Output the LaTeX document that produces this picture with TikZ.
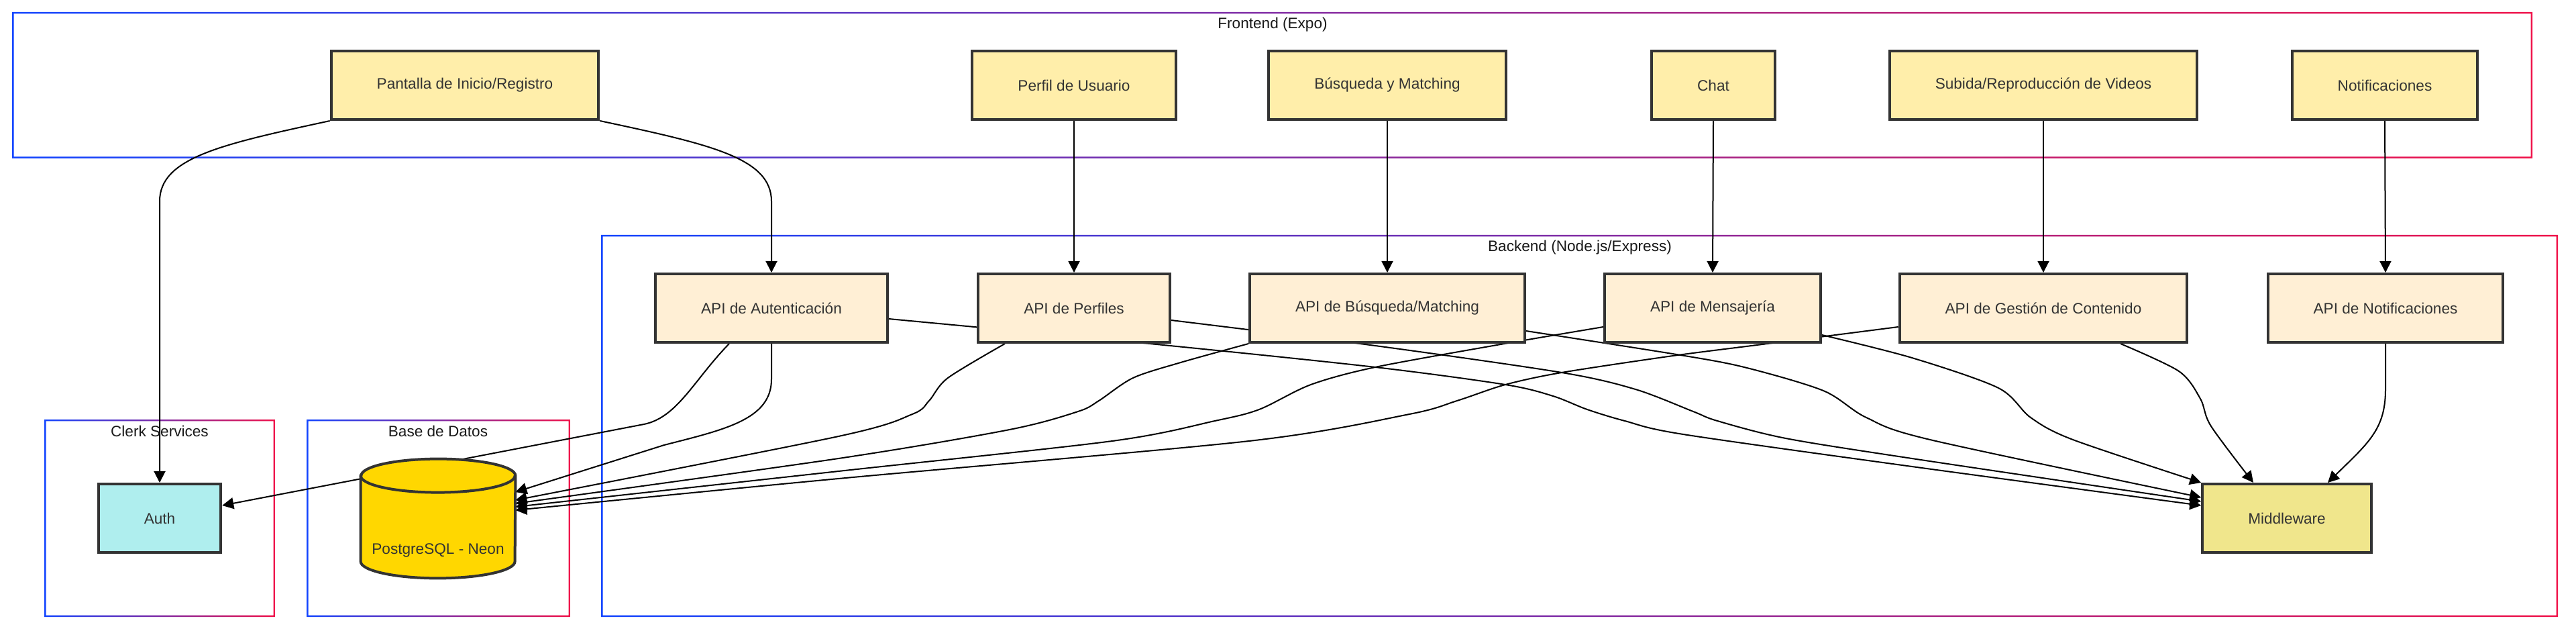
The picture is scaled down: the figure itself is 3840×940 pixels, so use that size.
\documentclass[tikz,border=0pt]{standalone}
\usepackage{fontspec}
\setmainfont{Liberation Sans}
\usetikzlibrary{arrows.meta,shadows}
\definecolor{frontfill}{HTML}{FFEEAA}
\definecolor{apifill}{HTML}{FFEFD5}
\definecolor{midfill}{HTML}{F0E68C}
\definecolor{authfill}{HTML}{AFEEEE}
\definecolor{dbfill}{HTML}{FFD700}
\definecolor{edge}{HTML}{333333}
\definecolor{clblue}{HTML}{1446FF}
\definecolor{clred}{HTML}{F0144B}
\pgfdeclarelayer{back}\pgfdeclarelayer{wires}\pgfsetlayers{back,wires,main}
\begin{document}
\begin{tikzpicture}[x=.5pt, y=-.5pt, >={Triangle[length=8.5pt,width=8.5pt]},
  box/.style={draw=edge, line width=2pt, text=edge, minimum height=51pt, inner xsep=34pt,
    font=\fontsize{11.3pt}{13.6pt}\selectfont,
    drop shadow={shadow xshift=1pt, shadow yshift=-1.5pt, opacity=.12}},
  front/.style={box, fill=frontfill}, api/.style={box, fill=apifill},
  wire/.style={line width=1pt, ->},
  title/.style={font=\fontsize{11.3pt}{13.6pt}\selectfont, text=black!90}]
	\useasboundingbox (0, 0) rectangle (3840, 940);
	\node [front] (pantalla) at (693, 127)  {Pantalla de Inicio/Registro};
	\node [front] (perfil)   at (1601, 127) {Perfil de Usuario};
	\node [front] (busq)     at (2068, 127) {Búsqueda y Matching};
	\node [front] (chat)     at (2554, 127) {Chat};
	\node [front] (videos)   at (3046, 127) {Subida/Reproducción de Videos};
	\node [front] (notif)    at (3555, 127) {Notificaciones};
	\node [api] (apiauth) at (1150, 459) {API de Autenticación};
	\node [api] (apiperf) at (1601, 459) {API de Perfiles};
	\node [api] (apibus)  at (2068, 459) {API de Búsqueda/Matching};
	\node [api] (apimen)  at (2553, 459) {API de Mensajería};
	\node [api] (apiges)  at (3046, 459) {API de Gestión de Contenido};
	\node [api] (apinot)  at (3556, 459) {API de Notificaciones};
	\node [box, fill=authfill] (auth) at (238, 772)  {Auth};
	\node [box, fill=midfill]  (mid)  at (3409, 772) {Middleware};
	\node [minimum width=115pt, minimum height=88.5pt, inner sep=0pt] (db) at (653, 772.5) {};
	\filldraw [draw=edge, fill=dbfill, line width=2pt] ([yshift=-12.5pt]db.north west) --
	  ([yshift=12.5pt]db.south west) arc [start angle=180, end angle=360, x radius=57.5pt, y radius=12.5pt] --
	  ([yshift=-12.5pt]db.north east) arc [start angle=0, end angle=180, x radius=57.5pt, y radius=12.5pt] -- cycle;
	\draw [draw=edge, line width=2pt] ([yshift=-12.5pt]db.north west)
	  arc [start angle=180, end angle=360, x radius=57.5pt, y radius=12.5pt];
	\node [title, text=edge] (dbname) at (653, 820) {PostgreSQL - Neon};
	\node [title] (fetitle) at (1897, 37)  {Frontend (Expo)};
	\node [title] (betitle) at (2355, 369) {Backend (Node.js/Express)};
	\node [title] (cltitle) at (238, 642)  {Clerk Services};
	\node [title] (dbtitle) at (653, 642)  {Base de Datos};
	\begin{pgfonlayer}{back}
	\fill [white] (0, 0) rectangle (3840, 940);
	\foreach \a/\b/\c/\d in {18/18/3775/236, 896/350/3813/919, 66/625/410/919, 457/625/850/919}
	  \shade [left color=clblue, right color=clred, even odd rule] (\a, \b) rectangle (\c, \d)
	    (\a+2.5, \b+2.5) rectangle (\c-2.5, \d-2.5);
	\end{pgfonlayer}
	\begin{pgfonlayer}{wires}
	\foreach \a/\b in {perfil/apiperf, busq/apibus, chat/apimen, videos/apiges, notif/apinot}
	  \draw [wire] (\a.south) -- (\b.north);
	\draw [wire] (pantalla.south west) .. controls (330, 215) and (238, 235) .. (238, 300) -- (auth.north);
	\draw [wire] (pantalla.south east) .. controls (1058, 215) and (1150, 235) .. (1150, 300) -- (apiauth.north);
	\draw [wire] ([xshift=-31.5pt]apiauth.south) .. controls (1035, 565) and (1010, 622) .. (960, 632) -- ([yshift=9.5pt]auth.east);
	\draw [wire] (apiauth.south) -- (1150, 565) .. controls (1150, 625) and (1080, 640) .. (990, 663) -- ([yshift=19.75pt]db.east);
	\draw [wire] plot [smooth] coordinates {([xshift=-51.5pt]apiperf.south) (1413, 563) (1385, 597) (1360, 617) (1250, 650) ([yshift=13.75pt]db.east)};
	\draw [wire] plot [smooth] coordinates {(apibus.south west) (1760, 540) (1689, 563) (1638, 597) (1607, 613) (1505, 640) (1250, 683) ([yshift=11.25pt]db.east)};
	\draw [wire] plot [smooth] coordinates {([yshift=-14pt]apimen.west) (2237, 513) (2050, 547) (1954, 573) (1877, 610) (1811, 627) (1658, 657) (1250, 702) ([yshift=8.75pt]db.east)};
	\draw [wire] plot [smooth] coordinates {([yshift=-14pt]apiges.west) (2627, 513) (2494, 530) (2328, 555) (2244, 573) (2172, 597) (2101, 617) (1862, 657) (1250, 713) ([yshift=6.25pt]db.east)};
	\draw [wire] plot [smooth] coordinates {([yshift=-8pt]apiauth.east) (1724, 513) (2050, 547) (2244, 573) (2315, 590) (2366, 610) (2422, 627) (2509, 647) (2850, 695) ([yshift=9.5pt]mid.west)};
	\draw [wire] plot [smooth] coordinates {([yshift=-9pt]apiperf.east) (2050, 515) (2328, 555) (2438, 580) (2524, 613) (2560, 627) (2662, 653) (2850, 683) ([yshift=12.5pt]mid.west)};
	\draw [wire] plot [smooth] coordinates {([yshift=-17pt]apibus.east) (2499, 528) (2600, 547) (2718, 582) (2782, 622) (2877, 655) ([yshift=15.5pt]mid.west)};
	\draw [wire] plot [smooth] coordinates {([yshift=-20pt]apimen.east) (2850, 533) (2979, 578) (3027, 622) (3090, 655) (mid.north west)};
	\draw [wire] plot [smooth] coordinates {([xshift=57.5pt]apiges.south) (3248, 553) (3280, 594) (3296, 635) ([xshift=-25pt]mid.north)};
	\draw [wire] (apinot.south) -- (3556, 580) .. controls (3556, 640) and (3530, 660) .. ([xshift=30.5pt]mid.north);
	\end{pgfonlayer}
\end{tikzpicture}
\end{document}
